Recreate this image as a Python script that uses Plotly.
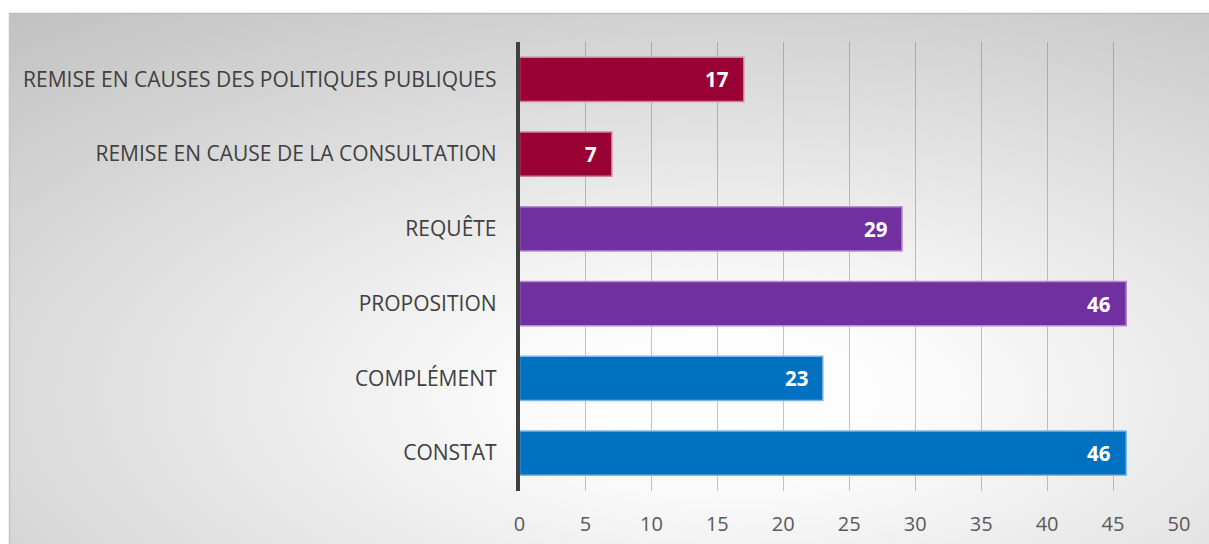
import base64
import plotly.graph_objects as go

# Categories listed bottom to top, as Plotly stacks a categorical y axis upward
categories = [
    "CONSTAT",
    "COMPLÉMENT",
    "PROPOSITION",
    "REQUÊTE",
    "REMISE EN CAUSE DE LA CONSULTATION",
    "REMISE EN CAUSES DES POLITIQUES PUBLIQUES",
]
values = [46, 23, 46, 29, 7, 17]
fill_colors = ["#0070C0", "#0070C0", "#7030A0", "#7030A0", "#990033", "#990033"]
edge_colors = ["#7DB6E3", "#7DB6E3", "#B58AD3", "#B58AD3", "#D0829C", "#D0829C"]
x_ticks = [0, 5, 10, 15, 20, 25, 30, 35, 40, 45, 50]

W, H = 1209, 544

# Radial-gradient panel behind the chart
svg = """<svg xmlns='http://www.w3.org/2000/svg' width='1200' height='531' viewBox='0 0 1200 531' preserveAspectRatio='none'>
<defs><radialGradient id='g' cx='0.60' cy='0.72' r='0.95' fx='0.60' fy='0.72'>
<stop offset='0' stop-color='#ffffff'/>
<stop offset='0.18' stop-color='#fbfbfb'/>
<stop offset='0.55' stop-color='#e0e0e0'/>
<stop offset='1' stop-color='#c0c0c0'/>
</radialGradient></defs>
<rect x='0' y='0' width='1200' height='531' fill='url(#g)'/>
</svg>"""
svg_uri = "data:image/svg+xml;base64," + base64.b64encode(svg.encode("utf-8")).decode("ascii")

fig = go.Figure()
fig.add_trace(
    go.Bar(
        x=values,
        y=categories,
        orientation="h",
        marker=dict(color=fill_colors, line=dict(color=edge_colors, width=1.5)),
        width=0.59,
        hoverinfo="x+y",
    )
)

# Value labels inside the bar ends
for cat, val in zip(categories, values):
    fig.add_annotation(
        x=val, y=cat, xref="x", yref="y",
        text=f"<b>{val}</b>", showarrow=False,
        xanchor="right", xshift=-13,
        font=dict(family="Open Sans", size=20.5, color="#ffffff"),
    )

x0_px, x1_px = 519.5, 1179.0
y_top_px, y_bot_px = 42.0, 490.5

fig.update_layout(
    width=W, height=H,
    margin=dict(l=0, r=0, t=0, b=0),
    paper_bgcolor="#ffffff",
    plot_bgcolor="rgba(0,0,0,0)",
    showlegend=False,
    bargap=0.41,
    font=dict(family="Open Sans", color="#404040"),
    images=[dict(
        source=svg_uri, xref="paper", yref="paper",
        x=9 / W, y=1 - 13 / H, sizex=1200 / W, sizey=531 / H,
        xanchor="left", yanchor="top", sizing="stretch", layer="below",
    )],
    shapes=[
        dict(type="line", xref="paper", yref="paper",
             x0=9 / W, x1=1, y0=1 - 13.5 / H, y1=1 - 13.5 / H,
             line=dict(color="#bdbdbd", width=1.5)),
        dict(type="line", xref="paper", yref="paper",
             x0=9.5 / W, x1=9.5 / W, y0=0, y1=1 - 13 / H,
             line=dict(color="#c4c4c4", width=1.5)),
    ],
    xaxis=dict(
        domain=[x0_px / W, x1_px / W],
        range=[0, 50],
        tickvals=x_ticks,
        showgrid=True, gridcolor="rgba(100,100,100,0.38)", gridwidth=1,
        zeroline=False, showline=False, ticks="",
        tickfont=dict(family="Open Sans", size=20, color="#595959"),
        ticklabelstandoff=19,
        automargin=False,
        fixedrange=True,
    ),
    yaxis=dict(
        domain=[1 - y_bot_px / H, 1 - y_top_px / H],
        showgrid=False, zeroline=False,
        showline=True, linecolor="#404040", linewidth=3.5,
        ticks="",
        tickfont=dict(family="Open Sans", size=21, color="#404040"),
        ticklabelstandoff=15,
        automargin=False,
        fixedrange=True,
    ),
)

fig.write_html("out.html")
